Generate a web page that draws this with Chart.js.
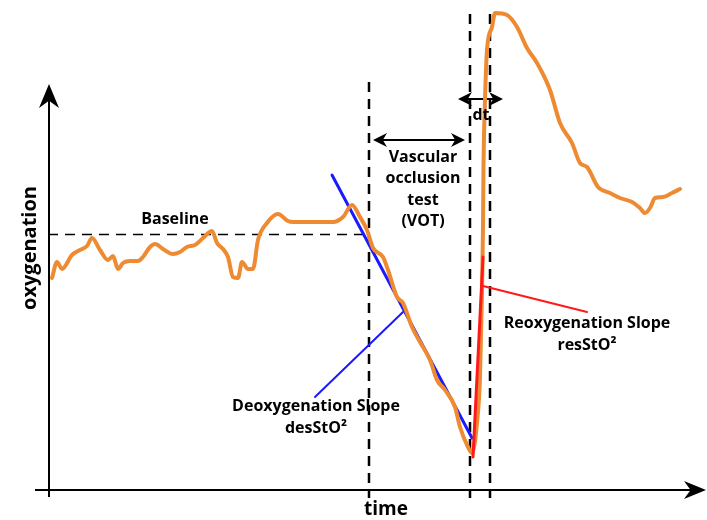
<!DOCTYPE html>
<html>
<head>
<meta charset="utf-8">
<script src="https://cdn.jsdelivr.net/npm/chart.js@4/dist/chart.umd.min.js"></script>
<style>
  body { margin: 0; background: #fff; }
  canvas { display: block; }
</style>
</head>
<body>
<canvas id="chart" width="707" height="520"></canvas>
<script>
// Oxygenation trace (time units / arbitrary oxygenation units)
const timeVals = [0.8, 1.8, 2.8, 4.8, 6.4, 7.8, 8.8, 10.4, 12, 13, 14, 15, 16.4, 18, 19, 20.4, 21.4, 23, 25, 26.4,
  27.8, 29.4, 31, 32.8, 33.8, 35, 36, 37, 38, 38.8, 40, 41, 42, 43.8, 46, 48, 49, 57, 59, 60.8,
  62.4, 63.8, 65, 67, 68, 69.8, 71, 72.8, 74.4, 76.4, 77.8, 79.4, 81.4, 82.4, 84, 84.8, 85.8, 86.4, 86.8, 87,
  87.1, 87.4, 87.8, 88.8, 89.4, 91.8, 93.8, 95.8, 97.8, 100.4, 102.4, 104.8, 106.4, 107.8, 110, 112.4, 114.4, 116.8, 118.4, 119.4,
  120.4, 121.4, 123, 124.8, 126.4];
const oxyVals = [42.4, 45.6, 44.2, 47, 48, 48.8, 50.4, 48, 46, 46.8, 44.2, 45.4, 45.8, 45.8, 46.6, 48.6, 49.2, 48.2, 47.2, 47.6,
  48.6, 49, 50.4, 51.8, 49.4, 48.2, 46.6, 42.6, 42.4, 45.6, 44.2, 44.2, 50, 53.4, 55.2, 53.8, 53.6, 53.6, 54.6, 57,
  54.6, 52, 48.4, 46.6, 44, 38.6, 37.4, 32.6, 29.6, 26, 22, 20, 16.6, 12.6, 8.6, 7.4, 13.4, 22.6, 39.4, 52.6,
  64.6, 78, 88, 92.6, 95.4, 95, 92.6, 88.4, 85.4, 80, 73.4, 69.4, 65.4, 64.6, 60.6, 59.4, 58.4, 57.6, 56.4, 55.4,
  56.4, 58.4, 58.6, 59.4, 60.2];

// Baseline level and the three event markers
const baselineLevel = 51.2;
const baselineEnd = 64;
const occlusionStart = 64.2;
const occlusionEnd = 84.4;
const recoveryPeak = 88.4;

// Fitted slopes and their callout leaders: [t0, t1], [v0, v1]
const desSlopeT = [56.8, 84.8];
const desSlopeV = [63, 10.4];
const desLeaderT = [71, 53.4];
const desLeaderV = [35.6, 18.6];
const resSlopeT = [85, 87];
const resSlopeV = [6.6, 46.6];
const resLeaderT = [87, 107.8];
const resLeaderV = [40.8, 35.6];

const toPoints = (ts, vs) => ts.map((t, i) => ({ x: t, y: vs[i] }));

const FONT = '"Open Sans", "DejaVu Sans", sans-serif';

function arrowHead(ctx, x, y, dir, len, half) {
  // dir: angle the tip points to
  ctx.save();
  ctx.translate(x, y);
  ctx.rotate(dir);
  ctx.beginPath();
  ctx.moveTo(0, 0);
  ctx.lineTo(-len, -half);
  ctx.lineTo(-len * 0.7, 0);
  ctx.lineTo(-len, half);
  ctx.closePath();
  ctx.fill();
  ctx.restore();
}

function doubleArrow(ctx, x1, x2, y) {
  ctx.beginPath();
  ctx.moveTo(x1 + 6, y);
  ctx.lineTo(x2 - 6, y);
  ctx.stroke();
  arrowHead(ctx, x1, y, Math.PI, 14, 7);
  arrowHead(ctx, x2, y, 0, 14, 7);
}

const schematicPlugin = {
  id: 'schematic',
  beforeDatasetsDraw(chart) {
    const { ctx, chartArea } = chart;
    const xs = chart.scales.x, ys = chart.scales.y;
    const px = xs.getPixelForValue.bind(xs);
    const py = ys.getPixelForValue.bind(ys);
    ctx.save();

    // baseline reference
    ctx.strokeStyle = '#000';
    ctx.lineWidth = 1.3;
    ctx.setLineDash([10, 7]);
    ctx.beginPath();
    ctx.moveTo(px(0), Math.round(py(baselineLevel)) + 0.5);
    ctx.lineTo(px(baselineEnd), Math.round(py(baselineLevel)) + 0.5);
    ctx.stroke();

    // event markers
    ctx.lineWidth = 2.5;
    ctx.setLineDash([10, 7]);
    [[occlusionStart, 81.6], [occlusionEnd, 95.2], [recoveryPeak, 95.2]].forEach(([t, top]) => {
      ctx.beginPath();
      ctx.moveTo(px(t), py(top));
      ctx.lineTo(px(t), chartArea.bottom + 8);
      ctx.stroke();
    });
    ctx.setLineDash([]);

    // axes
    const x0 = chartArea.left + 1, y0 = chartArea.bottom;
    ctx.lineWidth = 2;
    ctx.fillStyle = '#000';
    ctx.beginPath();
    ctx.moveTo(x0, y0 + 7);
    ctx.lineTo(x0, 100);
    ctx.moveTo(x0 - 14, y0);
    ctx.lineTo(chart.width - 10, y0);
    ctx.stroke();
    arrowHead(ctx, x0, 84, -Math.PI / 2, 24, 10);
    arrowHead(ctx, chart.width - 1, y0, 0, 22, 9);

    // VOT and dt spans
    ctx.lineWidth = 2;
    doubleArrow(ctx, px(65), px(83.4), py(70));
    doubleArrow(ctx, px(82), px(91), py(78.2));
    ctx.restore();
  },
  afterDatasetsDraw(chart) {
    const { ctx } = chart;
    const xs = chart.scales.x, ys = chart.scales.y;
    const px = xs.getPixelForValue.bind(xs);
    const py = ys.getPixelForValue.bind(ys);
    ctx.save();
    ctx.fillStyle = '#000';
    ctx.textAlign = 'center';
    ctx.textBaseline = 'middle';

    ctx.font = 'bold 16px ' + FONT;
    ctx.fillText('Baseline', px(25.4), py(54.2));
    ['Vascular', 'occlusion', 'test', '(VOT)'].forEach((s, i) => {
      ctx.fillText(s, px(75), py(66.6 - i * 4.3));
    });
    ctx.fillText('dt', px(86.6), py(75));
    ctx.fillText('Deoxygenation Slope', px(53.6), py(16.8));
    ctx.fillText('desStO\u00b2', px(53.6), py(12.4));
    ctx.fillText('Reoxygenation Slope', px(107.8), py(33.4));
    ctx.fillText('resStO\u00b2', px(107.8), py(29));

    ctx.font = 'bold 19px ' + FONT;
    ctx.fillText('time', px(67.6), py(-4));
    ctx.translate(30, py(48.4));
    ctx.rotate(-Math.PI / 2);
    ctx.font = 'bold 20px ' + FONT;
    ctx.fillText('oxygenation', 0, 0);
    ctx.restore();
  }
};

new Chart(document.getElementById('chart'), {
  type: 'line',
  data: {
    datasets: [
      {
        data: toPoints(resSlopeT, resSlopeV),
        borderColor: '#ff1a1a', borderWidth: 3, order: 0
      },
      {
        data: toPoints(resLeaderT, resLeaderV),
        borderColor: '#ff1a1a', borderWidth: 2, order: 0
      },
      {
        data: toPoints(timeVals, oxyVals),
        borderColor: '#ee8a32', borderWidth: 4,
        cubicInterpolationMode: 'monotone', order: 1
      },
      {
        data: toPoints(desSlopeT, desSlopeV),
        borderColor: '#1a1aff', borderWidth: 3, order: 2
      },
      {
        data: toPoints(desLeaderT, desLeaderV),
        borderColor: '#1a1aff', borderWidth: 2, order: 2
      }
    ]
  },
  options: {
    responsive: false,
    animation: false,
    layout: { padding: { left: 48, right: 9, top: 10, bottom: 30 } },
    elements: { point: { radius: 0 }, line: { borderCapStyle: 'round', borderJoinStyle: 'round' } },
    scales: {
      x: { type: 'linear', min: 0, max: 130, display: false },
      y: { min: 0, max: 96, display: false }
    },
    plugins: { legend: { display: false }, tooltip: { enabled: false } }
  },
  plugins: [schematicPlugin]
});
</script>
</body>
</html>
